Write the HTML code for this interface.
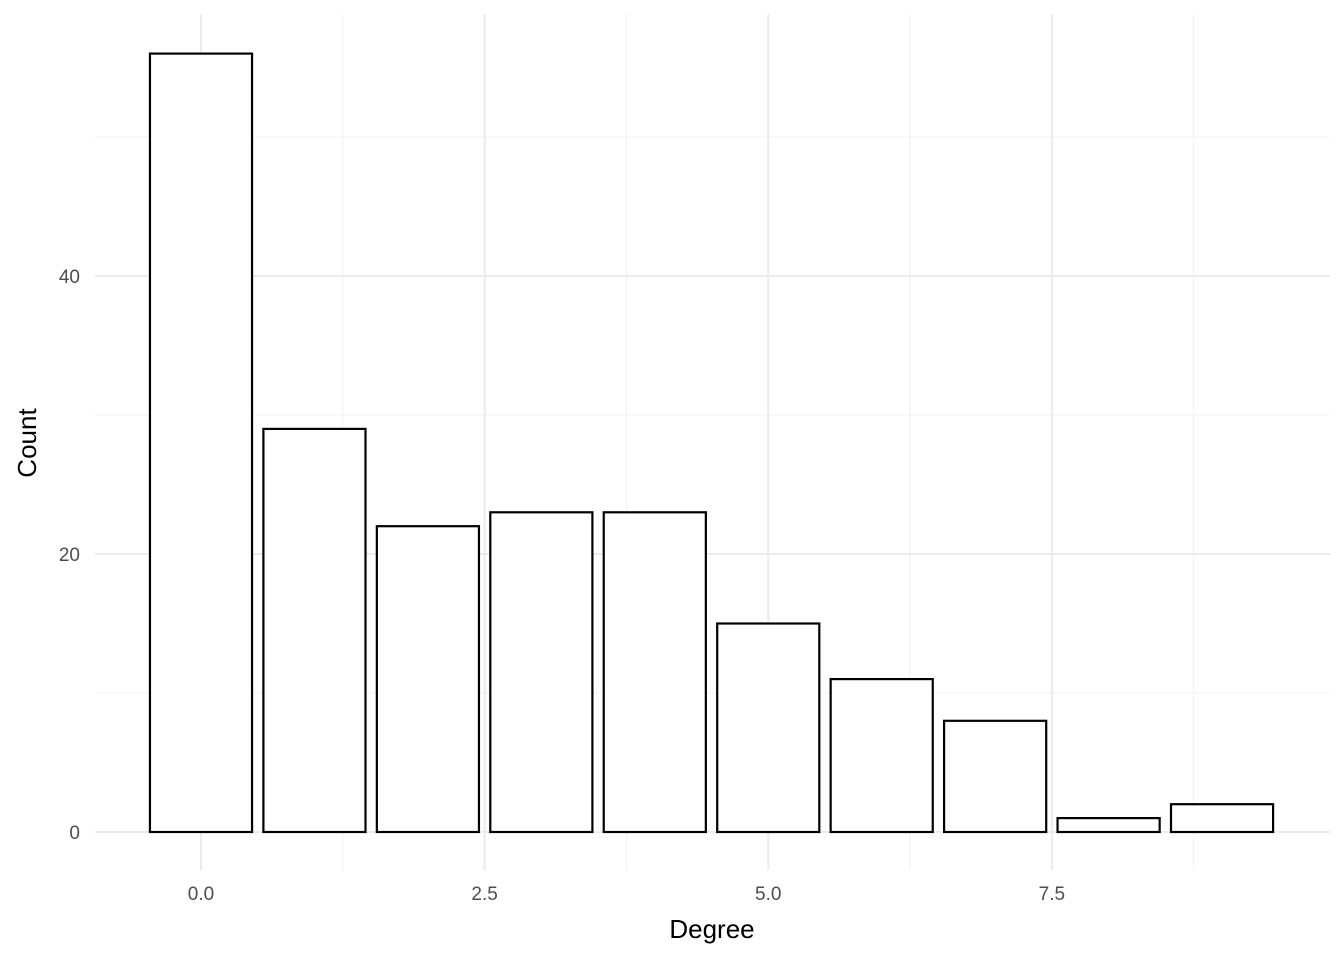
<!DOCTYPE html>
<html><head><meta charset="utf-8"><style>
body{margin:0;background:#fff}
svg{display:block;font-family:"Liberation Sans","DejaVu Sans",sans-serif}
</style></head><body>
<svg id="chart" width="1344" height="960" xmlns="http://www.w3.org/2000/svg">
<g id="grid"></g>
<g id="bars"></g>
<g id="ticks"></g>
<text x="712" y="938" font-size="26" text-anchor="middle" fill="#000">Degree</text>
<text transform="translate(36,443) rotate(-90)" font-size="26" text-anchor="middle" fill="#000">Count</text>
</svg>
<script>
const categories=[0,1,2,3,4,5,6,7,8,9];
const counts=[56,29,22,23,23,15,11,8,1,2];
const xTicks=[0,2.5,5,7.5];
const xTickLabels=["0.0","2.5","5.0","7.5"];
const xMinor=[1.25,3.75,6.25,8.75];
const yTicks=[0,20,40];
const yMinor=[10,30,50];
const NS="http://www.w3.org/2000/svg";
const X=v=>201+v*113.45;
const Y=v=>832-v*13.9;
const L=95,R=1330,T=14,B=870;
function mk(tag,attrs,parent){const e=document.createElementNS(NS,tag);for(const k in attrs)e.setAttribute(k,attrs[k]);parent.appendChild(e);return e;}
const grid=document.getElementById('grid'),bars=document.getElementById('bars'),ticks=document.getElementById('ticks');
yMinor.forEach(v=>{const l=mk('line',{x1:L,x2:R,y1:Y(v),y2:Y(v),stroke:'#f0f0f0','stroke-width':1},grid);

});
xMinor.forEach(v=>{const l=mk('line',{x1:X(v),x2:X(v),y1:T,y2:B,stroke:'#f0f0f0','stroke-width':1},grid);

});
yTicks.forEach(v=>{const l=mk('line',{x1:L,x2:R,y1:Y(v),y2:Y(v),stroke:'#ebebeb','stroke-width':2},grid);


const t=mk('text',{x:80,y:Y(v)+7,'font-size':19,'text-anchor':'end',fill:'#4d4d4d'},ticks);t.textContent=v;

});
xTicks.forEach((v,i)=>{const l=mk('line',{x1:X(v),x2:X(v),y1:T,y2:B,stroke:'#ebebeb','stroke-width':2},grid);


const t=mk('text',{x:X(v),y:900,'font-size':19,'text-anchor':'middle',fill:'#4d4d4d'},ticks);t.textContent=xTickLabels[i];

});
categories.forEach((c,i)=>{const r=mk('rect',{x:X(c-0.45),y:Y(counts[i]),width:X(0.9)-X(0),height:Y(0)-Y(counts[i]),fill:'#fff',stroke:'#000','stroke-width':2.2},bars);

});
</script>
</body></html>
